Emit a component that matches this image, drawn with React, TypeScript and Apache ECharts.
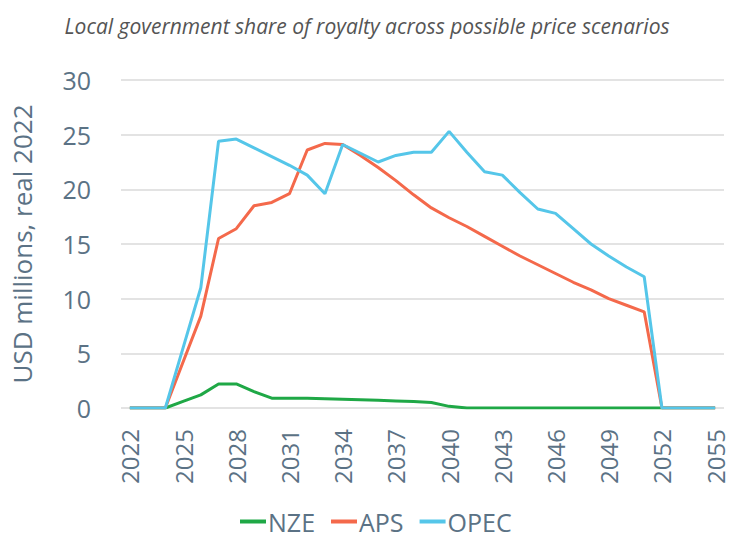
import React, { useEffect, useRef } from "react";
import * as echarts from "echarts";

const years: string[] = [];
for (let y = 2022; y <= 2055; y++) years.push(String(y));

const nze = [0, 0, 0, 0.6, 1.2, 2.2, 2.2, 1.5, 0.9, 0.9, 0.9, 0.85, 0.8, 0.75, 0.7, 0.65, 0.6, 0.5, 0.15, 0, 0, 0, 0, 0, 0, 0, 0, 0, 0, 0, 0, 0, 0, 0];
const aps = [0, 0, 0, 4.2, 8.4, 15.5, 16.4, 18.5, 18.8, 19.6, 23.6, 24.2, 24.1, 23.1, 22.0, 20.8, 19.5, 18.3, 17.4, 16.6, 15.7, 14.8, 13.9, 13.1, 12.3, 11.5, 10.8, 10.0, 9.4, 8.8, 0, 0, 0, 0];
const opec = [0, 0, 0, 5.5, 11.0, 24.4, 24.6, 23.8, 23.0, 22.2, 21.3, 19.6, 24.1, 23.3, 22.5, 23.1, 23.4, 23.4, 25.3, 23.4, 21.6, 21.3, 19.7, 18.2, 17.8, 16.4, 15.0, 13.9, 12.9, 12.0, 0, 0, 0, 0];

const axisColor = "#5b7285";

export default function App() {
  const ref = useRef<HTMLDivElement>(null);
  useEffect(() => {
    const chart = echarts.init(ref.current!, undefined, { renderer: "svg" });
    const mk = (name: string, data: number[], color: string) => ({
      name,
      type: "line",
      data,
      showSymbol: false,
      symbol: "none",
      lineStyle: { color, width: 3 },
      itemStyle: { color },
    });
    chart.setOption({
      animation: false,
      title: {
        text: "Local government share of royalty across possible price scenarios",
        left: "center",
        top: 10,
        textStyle: {
          fontFamily: "Open Sans",
          fontStyle: "italic",
          fontWeight: "normal",
          fontSize: 21,
          color: "#555555",
        },
      },
      grid: { left: 121, right: 10, top: 80, bottom: 133 },
      legend: {
        bottom: 2,
        left: 235,
        icon: "rect",
        itemWidth: 26,
        itemHeight: 4,
        itemGap: 16,
        textStyle: { fontFamily: "Open Sans", fontSize: 25, color: axisColor, padding: [0, 0, 0, -3] },
        data: ["NZE", "APS", "OPEC"],
      },
      xAxis: {
        type: "category",
        data: years,
        boundaryGap: true,
        axisLine: { show: false },
        axisTick: { show: false },
        axisLabel: {
          interval: 2,
          rotate: 90,
          margin: 21,
          fontFamily: "Open Sans",
          fontSize: 24,
          color: axisColor,
        },
      },
      yAxis: {
        type: "value",
        min: 0,
        max: 30,
        interval: 5,
        name: "USD millions, real 2022",
        nameLocation: "middle",
        nameGap: 86,
        nameTextStyle: { fontFamily: "Open Sans", fontSize: 26, color: axisColor },
        axisLine: { show: false },
        axisTick: { show: false },
        axisLabel: { margin: 30, fontFamily: "Open Sans", fontSize: 25, color: axisColor },
        splitLine: { lineStyle: { color: "#e3e3e3", width: 2 } },
      },
      series: [
        mk("NZE", nze, "#1fa846"),
        mk("APS", aps, "#f4694b"),
        mk("OPEC", opec, "#55c6e9"),
      ],
    });
    return () => chart.dispose();
  }, []);
  return <div ref={ref} style={{ width: 734, height: 541, margin: -8 }} />;
}
